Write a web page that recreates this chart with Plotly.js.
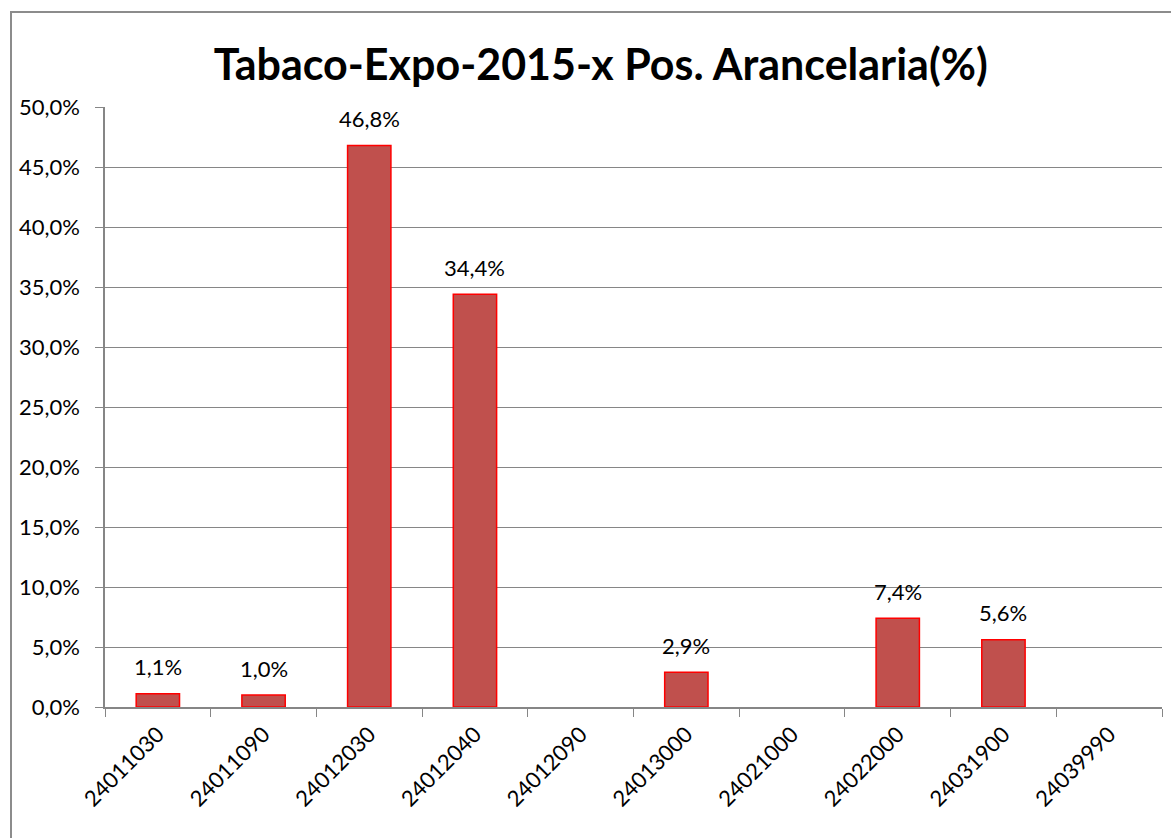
<!DOCTYPE html>
<html>
<head>
<meta charset="utf-8">
<script src="https://cdn.plot.ly/plotly-3.0.1.min.js"></script>
<style>
  body { margin: 0; background: #fff; }
  #plot { width: 1171px; height: 838px; }
  #frame { position: absolute; left: 10px; top: 11px; width: 1200px; height: 900px;
           border-left: 2px solid #8c8c8c; border-top: 2px solid #8c8c8c; pointer-events: none; }
</style>
</head>
<body>
<div id="plot"></div>
<div id="frame"></div>
<script>
// partidas arancelarias
var posiciones = ["24011030", "24011090", "24012030", "24012040", "24012090",
                  "24013000", "24021000", "24022000", "24031900", "24039990"];
// participacion en la exportacion (fraccion)
var participacion = [0.011, 0.010, 0.468, 0.344, null, 0.029, null, 0.074, 0.056, null];
// etiquetas de datos
var etiquetas = ["1,1%", "1,0%", "46,8%", "34,4%", "", "2,9%", "", "7,4%", "5,6%", ""];

var trace1 = {
  x: posiciones,
  y: participacion,
  type: "bar",
  marker: { color: "#C0504D", line: { color: "#FF0000", width: 1.5 } },
  hoverinfo: "none"
};

var data = [trace1];

// data labels placed above each bar (x as category index)
var notas = [];
for (var i = 0; i < posiciones.length; i++) {
  if (participacion[i] === null) continue;
  notas.push({
    x: i, y: participacion[i], xref: "x", yref: "y",
    text: etiquetas[i], showarrow: false, yanchor: "middle", yshift: 27,
    font: { family: "Lato, sans-serif", size: 22, color: "#000" }
  });
}

var layout = {
  width: 1171,
  height: 838,
  separators: ",.",
  margin: { l: 105, r: 9, t: 107, b: 131 },
  paper_bgcolor: "#fff",
  plot_bgcolor: "#fff",
  bargap: 0.59,
  showlegend: false,
  font: { family: "Lato, sans-serif", color: "#000" },
  annotations: notas,
  title: {
    text: "<b>Tabaco-Expo-2015-x Pos. Arancelaria(%)</b>",
    font: { family: "Lato, sans-serif", size: 43, color: "#000" },
    x: 0.513, xref: "container", xanchor: "center",
    y: 0.923, yref: "container", yanchor: "middle"
  },
  xaxis: {
    type: "category",
    range: [-0.5, posiciones.length - 0.5],
    tickangle: -45,
    tickson: "boundaries",
    ticks: "outside",
    ticklen: 8,
    tickcolor: "#868686",
    showline: true,
    linecolor: "#868686",
    linewidth: 1.5,
    showgrid: false,
    ticklabelstandoff: 4,
    tickfont: { family: "Lato, sans-serif", size: 22, color: "#000" }
  },
  yaxis: {
    range: [0, 0.5],
    dtick: 0.05,
    tickformat: ".1%",
    ticks: "outside",
    ticklen: 8,
    tickcolor: "#868686",
    showline: true,
    linecolor: "#868686",
    linewidth: 1.5,
    gridcolor: "#868686",
    gridwidth: 1.2,
    zeroline: false,
    ticklabelstandoff: 11,
    tickfont: { family: "Lato, sans-serif", size: 22, color: "#000" }
  }
};

Plotly.newPlot("plot", data, layout, { displayModeBar: false });
</script>
</body>
</html>
